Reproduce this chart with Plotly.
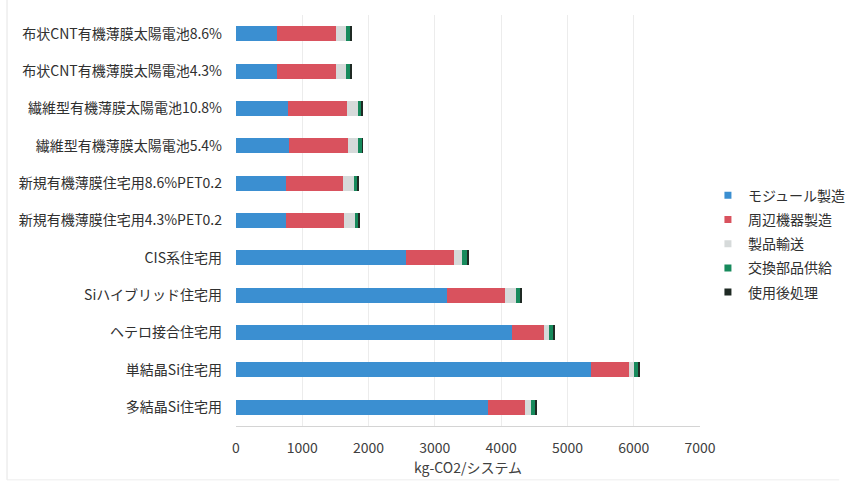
import plotly.graph_objects as go

# Categories listed top to bottom
categories = [
    "布状CNT有機薄膜太陽電池8.6%",
    "布状CNT有機薄膜太陽電池4.3%",
    "繊維型有機薄膜太陽電池10.8%",
    "繊維型有機薄膜太陽電池5.4%",
    "新規有機薄膜住宅用8.6%PET0.2",
    "新規有機薄膜住宅用4.3%PET0.2",
    "CIS系住宅用",
    "Siハイブリッド住宅用",
    "ヘテロ接合住宅用",
    "単結晶Si住宅用",
    "多結晶Si住宅用",
]

# kg-CO2 per system, by life-cycle stage
module_mfg = [615, 620, 785, 795, 753, 753, 2565, 3185, 4159, 5353, 3803]
peripheral_mfg = [900, 895, 895, 890, 865, 875, 718, 873, 489, 574, 553]
transport = [145, 150, 157, 160, 167, 165, 129, 162, 67, 70, 91]
replacement = [65, 65, 60, 60, 55, 55, 85, 70, 80, 80, 70]
end_of_life = [10, 10, 10, 10, 20, 20, 10, 10, 10, 10, 10]

series_names = ["モジュール製造", "周辺機器製造", "製品輸送", "交換部品供給", "使用後処理"]
series_values = [module_mfg, peripheral_mfg, transport, replacement, end_of_life]
series_colors = ["#3b8fd1", "#d9525e", "#d6dada", "#178a5c", "#1f2a24"]

x_ticks = [0, 1000, 2000, 3000, 4000, 5000, 6000, 7000]

font_family = "Noto Sans CJK JP, Noto Sans, sans-serif"

fig = go.Figure()
for name, vals, color in zip(series_names, series_values, series_colors):
    fig.add_trace(go.Bar(
        y=categories,
        x=vals,
        name=name,
        legendgroup=name,
        showlegend=False,
        orientation="h",
        marker=dict(color=color, line=dict(width=0)),
    ))
    # small square key for the legend
    fig.add_trace(go.Scatter(
        x=[None],
        y=[None],
        name=name,
        legendgroup=name,
        mode="markers",
        marker=dict(symbol="square", size=7, color=color),
        showlegend=True,
    ))

fig.update_layout(
    barmode="stack",
    bargap=0.6,
    width=855,
    height=483,
    margin=dict(l=236, r=155, t=15, b=57, autoexpand=False),
    paper_bgcolor="white",
    plot_bgcolor="white",
    font=dict(family=font_family, size=13, color="#404040"),
    xaxis=dict(
        range=[0, 7000],
        tickvals=x_ticks,
        ticktext=[str(v) for v in x_ticks],
        showgrid=True,
        gridcolor="#ececec",
        gridwidth=1,
        zeroline=False,
        showline=True,
        linecolor="#d4d4d4",
        linewidth=1,
        ticks="",
        ticklabelstandoff=9,
        tickfont=dict(size=14, color="#404040"),
        title=dict(text="kg-CO2/システム", font=dict(size=14, color="#404040"), standoff=5),
    ),
    yaxis=dict(
        autorange="reversed",
        showgrid=False,
        showline=False,
        ticks="",
        ticklabelstandoff=13,
        tickfont=dict(size=14, color="#303030"),
    ),
    legend=dict(
        xref="container",
        yref="container",
        x=0.828,
        y=0.628,
        xanchor="left",
        yanchor="top",
        traceorder="grouped",
        tracegroupgap=3,
        font=dict(size=14, color="#303030"),
        itemwidth=30,
    ),
    shapes=[
        dict(type="line", xref="paper", yref="paper",
             x0=-0.4935, x1=-0.4935, y0=-0.131, y1=1.04,
             line=dict(color="#e4e4e4", width=1)),
        dict(type="line", xref="paper", yref="paper",
             x0=-0.4935, x1=1.3, y0=-0.131, y1=-0.131,
             line=dict(color="#ededed", width=1)),
    ],
)

fig.write_html("out.html")
